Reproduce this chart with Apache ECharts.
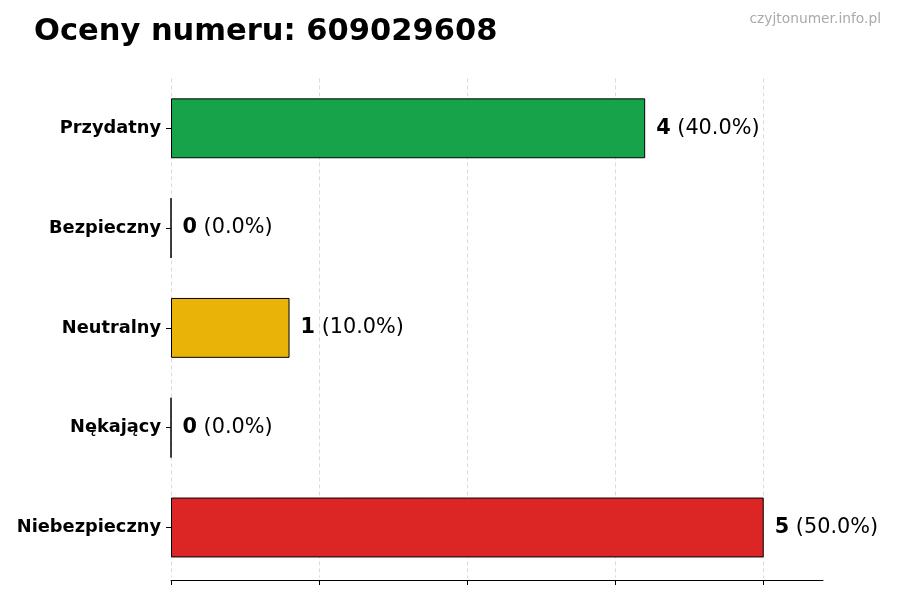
<!DOCTYPE html>
<html><head><meta charset="utf-8">
<script src="https://cdn.jsdelivr.net/npm/echarts@6/dist/echarts.min.js"></script>
<style>html,body{margin:0;padding:0;background:#fff}#c{width:900px;height:600px}</style>
</head><body><div id="c"></div>
<script>
const categories = ['Przydatny', 'Bezpieczny', 'Neutralny', 'Nękający', 'Niebezpieczny'];
const values = [4, 0, 1, 0, 5];
const colors = ['#16a34a', '#22c55e', '#eab308', '#f97316', '#dc2626'];
const xTicks = [0, 1.25, 2.5, 3.75, 5];
const titleText = 'Oceny numeru: 609029608';
const watermark = 'czyjtonumer.info.pl';

const total = values.reduce((a, b) => a + b, 0);
const FONT = 'DejaVu Sans';
const chart = echarts.init(document.getElementById('c'), null, {renderer: 'canvas'});
chart.setOption({
  animation: false,
  backgroundColor: '#ffffff',
  textStyle: {fontFamily: FONT},
  title: [
    {text: titleText, left: 29, top: 12, textStyle: {fontFamily: FONT, fontSize: 30.5, fontWeight: 'bold', color: '#000'}},
    {text: watermark, right: 14, top: 7, textStyle: {fontFamily: FONT, fontSize: 13.8, fontWeight: 'normal', color: '#aaaaaa'}}
  ],
  grid: {left: 171, right: 77, top: 78.4, bottom: 22.6, containLabel: false},
  xAxis: {
    type: 'value', min: 0, max: 5.5, offset: 2.6,
    axisLine: {show: true, lineStyle: {color: '#000', width: 1}},
    axisTick: {show: true, length: 5, lineStyle: {color: '#000'}, customValues: xTicks},
    axisLabel: {show: false, customValues: xTicks},
    splitLine: {show: true, lineStyle: {color: '#d0d0d0', type: [4, 3], width: 0.8}}
  },
  yAxis: {
    type: 'category', data: categories, inverse: true,
    axisLine: {show: false},
    axisTick: {show: true, alignWithLabel: true, length: 5, lineStyle: {color: '#000'}},
    axisLabel: {fontFamily: FONT, fontSize: 17.8, fontWeight: 'bold', color: '#000', margin: 10, padding: [6, 0, 0, 0]},
    splitLine: {show: false}
  },
  series: [{
    type: 'bar',
    barWidth: '60%',
    data: values.map((v, i) => ({value: v, itemStyle: {color: colors[i]}})),
    itemStyle: {borderColor: '#000', borderWidth: 1},
    label: {
      show: true, position: 'right', distance: 11,
      formatter: p => '{b|' + p.value + '}{n| (' + (p.value / total * 100).toFixed(1) + '%)}',
      rich: {
        b: {fontFamily: FONT, fontSize: 20.8, fontWeight: 'bold', color: '#000'},
        n: {fontFamily: FONT, fontSize: 20.8, color: '#000'}
      }
    }
  }]
});
</script>
</body></html>
